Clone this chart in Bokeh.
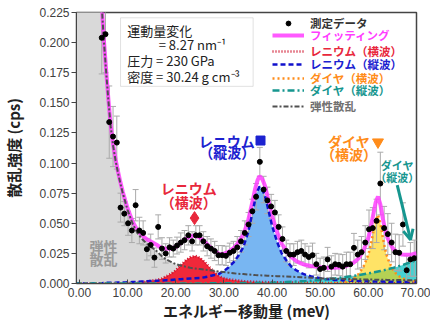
from bokeh.plotting import figure
from bokeh.models import (Range1d, FixedTicker, NumeralTickFormatter, Legend, LegendItem,
                          Label, BoxAnnotation, Arrow, OpenHead)
from bokeh.embed import file_html
from bokeh.resources import INLINE

# ---------------- data ----------------
x_ticks = [0, 10, 20, 30, 40, 50, 60, 70]
y_ticks = [0, 0.025, 0.05, 0.075, 0.1, 0.125, 0.15, 0.175, 0.2, 0.225]

pt_x = [4.62, 5.40, 6.18, 6.97, 7.75, 8.53, 9.31, 10.09, 10.88, 11.66, 12.44, 13.22, 14.00, 14.79,
        15.57, 16.35, 17.13, 17.91, 18.70, 19.48, 20.26, 21.04, 21.82, 22.61, 23.39, 24.17, 24.95,
        25.73, 26.52, 27.30, 28.08, 28.86, 29.64, 30.43, 31.21, 31.99, 32.77, 33.55, 34.34, 35.12,
        35.90, 36.68, 37.46, 38.25, 39.03, 39.81, 40.59, 41.37, 42.16, 42.94, 43.72, 44.50, 45.28,
        46.07, 46.85, 47.63, 48.41, 49.19, 49.98, 50.76, 51.54, 52.32, 53.10, 53.89, 54.67, 55.45,
        56.23, 57.01, 57.80, 58.58, 59.36, 60.14, 60.92, 61.71, 62.49, 63.27, 64.05, 64.83, 65.62,
        66.40, 67.18, 67.96, 68.74, 69.53]
pt_y = [0.204, 0.207, 0.134, 0.122, 0.117, 0.063, 0.058, 0.050, 0.044, 0.065, 0.044, 0.042, 0.0285,
        0.032, 0.0215, 0.047, 0.029, 0.025, 0.030, 0.029, 0.0315, 0.034, 0.036, 0.040, 0.035, 0.040,
        0.040, 0.035, 0.031, 0.029, 0.027, 0.0235, 0.0235, 0.023, 0.0255, 0.027, 0.030, 0.035, 0.042,
        0.049, 0.060, 0.072, 0.101, 0.078, 0.069, 0.064, 0.059, 0.047, 0.037, 0.027, 0.024, 0.024,
        0.026, 0.027, 0.024, 0.022, 0.0235, 0.016, 0.012, 0.013, 0.020, 0.014, 0.016, 0.0155, 0.014,
        0.016, 0.016, 0.0296, 0.024, 0.026, 0.034, 0.045, 0.046, 0.052, 0.083, 0.046, 0.041, 0.034,
        0.026, 0.0255, 0.049, 0.011, 0.020, 0.021]
pt_err = [0.030, 0.032, 0.030, 0.025, 0.022, 0.012, 0.010, 0.010, 0.010, 0.013, 0.011, 0.010, 0.009,
          0.009, 0.008, 0.010, 0.009, 0.008, 0.008, 0.007, 0.007, 0.008, 0.008, 0.008, 0.008, 0.008,
          0.008, 0.008, 0.008, 0.008, 0.008, 0.008, 0.008, 0.008, 0.008, 0.008, 0.009, 0.009, 0.010,
          0.010, 0.010, 0.011, 0.012, 0.011, 0.011, 0.010, 0.010, 0.010, 0.010, 0.009, 0.009, 0.009,
          0.009, 0.009, 0.009, 0.009, 0.010, 0.009, 0.009, 0.009, 0.010, 0.009, 0.009, 0.009, 0.010,
          0.010, 0.010, 0.012, 0.012, 0.013, 0.014, 0.016, 0.017, 0.018, 0.026, 0.018, 0.017, 0.016,
          0.015, 0.015, 0.018, 0.012, 0.014, 0.015]

curve_x = [-1, 3.5, 4, 4.5, 5, 5.5, 6, 6.5, 7, 7.5, 8, 8.5, 9, 9.5, 10, 11, 12, 13, 14, 15, 16, 17,
           18, 19, 20, 21, 22, 23, 24, 25, 26, 27, 28, 29, 30, 31, 32, 33, 34, 35, 36, 36.5, 37, 37.4,
           38, 38.5, 39, 40, 41, 42, 43, 44, 45, 46, 47, 48, 49, 50, 51, 52, 53, 54, 55, 56, 57, 58,
           59, 60, 60.5, 61, 61.5, 62, 62.5, 63, 63.5, 64, 65, 66, 67, 68, 69, 70]
elastic = [1.0, 0.40, 0.30, 0.24, 0.205, 0.178, 0.152, 0.130, 0.114, 0.102, 0.092, 0.083, 0.075, 0.068,
           0.061, 0.050, 0.042, 0.037, 0.033, 0.030, 0.027, 0.023, 0.020, 0.018, 0.016, 0.015, 0.014,
           0.013, 0.0125, 0.012, 0.0115, 0.011, 0.0105, 0.010, 0.0095, 0.009, 0.0085, 0.008, 0.0078,
           0.0075, 0.0072, 0.007, 0.0069, 0.0068, 0.0067, 0.0066, 0.0065, 0.0063, 0.0061, 0.006,
           0.0058, 0.0056, 0.0054, 0.0052, 0.005, 0.0048, 0.0046, 0.0044, 0.0042, 0.0041, 0.004,
           0.0039, 0.0038, 0.0037, 0.0036, 0.0035, 0.0034, 0.0033, 0.0033, 0.0032, 0.0032, 0.0032,
           0.0031, 0.0031, 0.0031, 0.003, 0.003, 0.0029, 0.0028, 0.0028, 0.0027, 0.0027]
re_ta = [0, 0, 0, 0, 0, 0, 0, 0, 0, 0, 0, 0, 0, 0, 0.0003, 0.0005, 0.0008, 0.0012, 0.0018, 0.0025,
         0.003, 0.004, 0.006, 0.008, 0.011, 0.015, 0.019, 0.0218, 0.023, 0.0215, 0.018, 0.0135, 0.0095,
         0.006, 0.0045, 0.0035, 0.003, 0.0025, 0.002, 0.0017, 0.0015, 0.0014, 0.0013, 0.0013, 0.0012,
         0.0012, 0.0011, 0.001, 0.001, 0.0009, 0.0009, 0.0008, 0.0007, 0.0007, 0.0006, 0.0006, 0.0005,
         0.0005, 0.0005, 0.0005, 0.0005, 0.0004, 0.0004, 0.0004, 0.0004, 0.0003, 0.0003, 0.0003,
         0.0003, 0.0003, 0.0003, 0.0003, 0.0003, 0.0003, 0.0003, 0.0003, 0.0003, 0.0003, 0.0002,
         0.0002, 0.0002, 0.0002]
re_la = [0, 0, 0, 0, 0.0005, 0.0005, 0.0006, 0.0006, 0.0007, 0.0007, 0.0008, 0.0008, 0.0009, 0.0009,
         0.001, 0.0012, 0.0014, 0.0016, 0.0018, 0.002, 0.0022, 0.0025, 0.0028, 0.003, 0.0033, 0.0036,
         0.0039, 0.0042, 0.0044, 0.0045, 0.0052, 0.006, 0.007, 0.008, 0.0105, 0.0135, 0.0175, 0.023,
         0.030, 0.042, 0.060, 0.070, 0.077, 0.0805, 0.078, 0.073, 0.065, 0.048, 0.035, 0.025, 0.019,
         0.014, 0.011, 0.0088, 0.0072, 0.006, 0.0051, 0.0044, 0.0038, 0.0034, 0.003, 0.0027, 0.0025,
         0.0023, 0.0022, 0.002, 0.0019, 0.0018, 0.0018, 0.0017, 0.0017, 0.0016, 0.0016, 0.0016,
         0.0015, 0.0015, 0.0014, 0.0014, 0.0013, 0.0013, 0.0012, 0.0012]
dia_ta = [0, 0, 0, 0, 0, 0, 0, 0, 0, 0, 0, 0, 0, 0, 0, 0, 0, 0, 0, 0, 0, 0, 0, 0, 0, 0, 0, 0, 0, 0,
          0, 0, 0, 0, 0, 0, 0, 0, 0, 0, 0, 0, 0, 0, 0, 0, 0, 0, 0, 0, 0, 0, 0, 0, 0, 0, 0, 0, 0, 0,
          0.0003, 0.0006, 0.001, 0.0025, 0.0045, 0.008, 0.014, 0.024, 0.032, 0.042, 0.052, 0.057,
          0.050, 0.038, 0.028, 0.021, 0.012, 0.007, 0.0045, 0.003, 0.002, 0.0015]
dia_la = [0, 0, 0, 0, 0, 0, 0, 0, 0, 0, 0, 0, 0, 0, 0, 0, 0, 0, 0, 0, 0, 0, 0, 0, 0, 0, 0, 0, 0, 0,
          0.0001, 0.0002, 0.0002, 0.0003, 0.0003, 0.0003, 0.0003, 0.0004, 0.0004, 0.0005, 0.0005,
          0.0005, 0.0006, 0.0006, 0.0006, 0.0006, 0.0006, 0.0007, 0.0008, 0.001, 0.0012, 0.0014,
          0.0016, 0.0018, 0.002, 0.0023, 0.0026, 0.003, 0.0034, 0.0038, 0.0042, 0.0047, 0.0052,
          0.0058, 0.0064, 0.007, 0.0077, 0.0084, 0.0088, 0.0092, 0.0096, 0.010, 0.0104, 0.0108,
          0.0113, 0.0118, 0.0128, 0.014, 0.0152, 0.0166, 0.018, 0.0195]
fit = [1.0, 0.40, 0.30, 0.242, 0.206, 0.179, 0.153, 0.131, 0.115, 0.103, 0.093, 0.084, 0.076, 0.069,
       0.0623, 0.0517, 0.0442, 0.0398, 0.0366, 0.0345, 0.0322, 0.0295, 0.0288, 0.029, 0.0303, 0.0336,
       0.0369, 0.039, 0.0399, 0.038, 0.0348, 0.0307, 0.0272, 0.0243, 0.0248, 0.0263, 0.0293, 0.0339,
       0.0402, 0.0517, 0.0692, 0.0789, 0.0858, 0.0892, 0.0865, 0.0814, 0.0732, 0.056, 0.043, 0.033,
       0.027, 0.022, 0.0187, 0.0167, 0.0153, 0.0145, 0.014, 0.0135, 0.013, 0.013, 0.013, 0.0133,
       0.014, 0.0155, 0.0175, 0.021, 0.0275, 0.038, 0.0465, 0.0567, 0.067, 0.0722, 0.0655, 0.054,
       0.0443, 0.0377, 0.0295, 0.0256, 0.024, 0.0239, 0.0241, 0.0251]

# peak position markers
mk_re_ta = ([23.9], [0.0543])
mk_re_la = ([37.6], [0.1187])
mk_dia_ta = ([62.0], [0.1174])

JP = "Noto Sans CJK JP"
RED, BLUE, ORANGE, TEAL, GRAY, MAG = "#e8283c", "#1c22d0", "#ff8c1a", "#16968f", "#6e6e6e", "#ff3dff"

# ---------------- figure ----------------
p = figure(width=430, height=323, output_backend="svg", toolbar_location=None,
           x_range=Range1d(-0.62, 70), y_range=Range1d(0, 0.225),
           min_border_left=74, min_border_right=14, min_border_top=12, min_border_bottom=37)
p.background_fill_color = "white"
p.border_fill_color = "white"
p.outline_line_color = "#444444"
p.outline_line_width = 1.5
p.xgrid.visible = False
p.ygrid.visible = False

# fills
p.varea(x=curve_x, y1=0, y2=elastic, fill_color="#d9d9d9")
p.varea(x=curve_x, y1=0, y2=re_la, fill_color="#78b6f2")
p.varea(x=curve_x, y1=0, y2=re_ta, fill_color="#f0283a")
p.varea(x=curve_x, y1=0, y2=dia_la, fill_color="#45d2d2")
p.varea(x=curve_x, y1=0, y2=dia_ta, fill_color="#ffd000", fill_alpha=0.6)

# error bars
lower = [y - e for y, e in zip(pt_y, pt_err)]
upper = [y + e for y, e in zip(pt_y, pt_err)]
p.segment(x0=pt_x, x1=pt_x, y0=lower, y1=upper, line_color="#aaaaaa", line_width=1)
p.scatter(x=pt_x, y=lower, marker="dash", size=6, line_color="#aaaaaa", line_width=1)
p.scatter(x=pt_x, y=upper, marker="dash", size=6, line_color="#aaaaaa", line_width=1)

# fit and components
r_fit = p.line(curve_x, fit, line_color=MAG, line_width=4, line_alpha=0.85)
r_ta = p.line(curve_x, re_ta, line_color="#d0102a", line_width=2.5, line_dash="1 2")
r_la = p.line(curve_x, re_la, line_color="#1010cc", line_width=2.5, line_dash="5 3")
r_dta = p.line(curve_x, dia_ta, line_color=ORANGE, line_width=2.5, line_dash="2 3")
r_dla = p.line(curve_x, dia_la, line_color=TEAL, line_width=2.5, line_dash="7 3 2 3")
r_el = p.line(curve_x, elastic, line_color="#505050", line_width=2, line_dash="5 2 2 2")

r_pts = p.scatter(pt_x, pt_y, size=5, color="black")

# peak markers
p.scatter(mk_re_ta[0], mk_re_ta[1], marker="diamond", size=13, color=RED)
p.scatter(mk_re_la[0], mk_re_la[1], marker="square", size=9, color=BLUE)
p.scatter(mk_dia_ta[0], mk_dia_ta[1], marker="inverted_triangle", size=11, color=ORANGE)

# axes
p.xaxis.ticker = FixedTicker(ticks=x_ticks)
p.yaxis.ticker = FixedTicker(ticks=y_ticks)
p.xaxis.formatter = NumeralTickFormatter(format="0.00")
p.yaxis.formatter = NumeralTickFormatter(format="0.000")
for ax in (p.xaxis, p.yaxis):
    ax.axis_line_color = "#444444"
    ax.major_tick_line_color = "#444444"
    ax.minor_tick_line_color = None
    ax.major_label_text_font = "Liberation Sans"
    ax.major_label_text_font_size = "12px"
    ax.major_label_text_color = "#404040"
    ax.axis_label_text_font = JP
    ax.axis_label_text_font_size = "15px"
    ax.axis_label_text_font_style = "bold"
    ax.axis_label_text_color = "#222222"
p.xaxis.major_tick_in = 4
p.xaxis.major_tick_out = 0
p.xaxis.major_label_standoff = 4
p.xaxis.axis_label_standoff = 0
p.yaxis.major_tick_in = 0
p.yaxis.major_tick_out = 5
p.yaxis.major_label_standoff = 2
p.yaxis.axis_label_standoff = 12
p.xaxis.axis_label = "エネルギー移動量 (meV)"
p.yaxis.axis_label = "散乱強度 (cps)"

# info box
p.add_layout(BoxAnnotation(left=8.53, right=36.07, bottom=0.1637, top=0.2206,
                           fill_color="white", fill_alpha=1, line_color="#9a9a9a", line_width=1))
for tx, xx, yy in [("運動量変化", 9.91, 0.2100), ("= 8.27 nm⁻¹", 16.46, 0.1983),
                   ("圧力 = 230 GPa", 9.91, 0.1851), ("密度 = 30.24 g cm⁻³", 9.91, 0.1717)]:
    p.add_layout(Label(x=xx, y=yy, text=tx, text_font=JP, text_font_size="13px",
                       text_color="#222222", text_align="left", text_baseline="middle"))

# peak labels
def lab(tx, xx, yy, color, size="14px"):
    p.add_layout(Label(x=xx, y=yy, text=tx, text_font=JP, text_font_size=size,
                       text_font_style="bold", text_color=color,
                       text_align="center", text_baseline="middle"))

lab("レニウム", 22.7, 0.0790, RED)
lab("（横波）", 22.7, 0.0680, RED)
lab("レニウム", 30.6, 0.1187, BLUE)
lab("（縦波）", 30.7, 0.1092, BLUE)
lab("ダイヤ", 56.0, 0.1187, ORANGE)
lab("（横波）", 56.0, 0.1078, ORANGE)
lab("ダイヤ", 66.0, 0.0981, TEAL, "11px")
lab("（縦波）", 66.0, 0.0886, TEAL, "11px")
lab("弾性", 5.0, 0.0310, "#9a9a9a")
lab("散乱", 5.0, 0.0200, "#9a9a9a")

p.add_layout(Arrow(end=OpenHead(size=10, line_color=TEAL, line_width=3),
                   x_start=66.0, y_start=0.0817, x_end=68.76, y_end=0.0364,
                   line_color=TEAL, line_width=3))

# legends (one per entry to colour each label)
entries = [("測定データ", r_pts, "#333333", 252),
           ("フィッティング", r_fit, MAG, 240.5),
           ("レニウム（横波）", r_ta, RED, 224),
           ("レニウム（縦波）", r_la, BLUE, 211.5),
           ("ダイヤ（横波）", r_dta, ORANGE, 197.5),
           ("ダイヤ（縦波）", r_dla, TEAL, 185.5),
           ("弾性散乱", r_el, "#707070", 169)]
for lbl, rr, col, vy in entries:
    lg = Legend(items=[LegendItem(label=lbl, renderers=[rr])], location=(196, vy),
                label_text_color=col, label_text_font=JP, label_text_font_size="11.5px",
                label_text_font_style="bold", glyph_width=32, glyph_height=12,
                label_height=12, label_standoff=6, padding=0, margin=0, spacing=0,
                border_line_color=None, background_fill_alpha=0)
    p.add_layout(lg)

open("out.html", "w").write(file_html(p, INLINE))
